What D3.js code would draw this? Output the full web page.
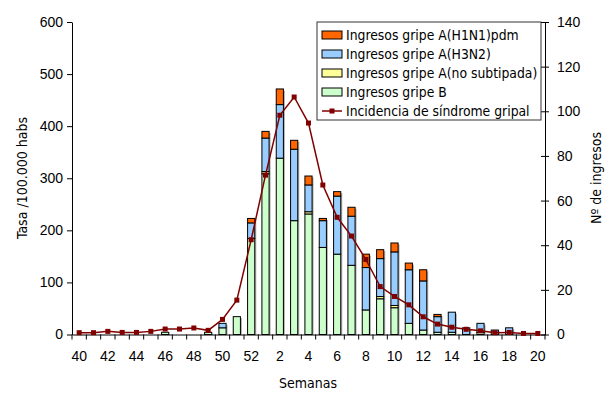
<!DOCTYPE html>
<html>
<head>
<meta charset="utf-8">
<script src="https://cdn.jsdelivr.net/npm/d3@7"></script>
<style>
	body{margin:0;background:#fff;}
	svg{font-family:Tahoma,"DejaVu Sans Condensed","DejaVu Sans",sans-serif;}
</style>
</head>
<body>
<div id="chartplace"></div>
<script>
// semanas epidemiologicas
var semanas = ["40","41","42","43","44","45","46","47","48","49","50","51","52",
	"1","2","3","4","5","6","7","8","9","10","11","12","13","14","15","16","17","18","19","20"];
// tasa de incidencia /100.000 habs (eje izq)
var incidencia = [3.5,3.5,6,4,4,6,10.5,10.5,12.5,8,29,66,182,
	306,421,456,406,287,225,189,144,92,73,57,34,20,14,10,7,3.5,4,2,2];
// ingresos (eje dcho)
var gripeB   = [0,0,0,0,0,0,1,0,0,1,3,8,43, 72,79,51,54,39,36,31,11,16,12,5,2,1,1,0,1,1,1,0,0];
var noSubtip = [0,0,0,0,0,0,0,0,0,0,0,0,0,  1,0,0,1,0,0,0,0,1,1,0,0,0,0,0,0,0,0,0,0];
var h3n2     = [0,0,0,0,0,0,0,0,0,0,2,0,7,  15,24,32,12,12,26,22,19,17,24,24,22,7,9,3,4,1,2,0,0];
var h1n1pdm  = [0,0,0,0,0,0,0,0,0,0,0,0,2,  3,7,4,4,1,2,4,6,4,4,3,5,1,0,0,0,0,0,0,0];

var ticksIzq = [0,100,200,300,400,500,600];
var ticksDer = [0,20,40,60,80,100,120,140];

var series = [
	{key:"B", legend:"Ingresos gripe B", color:"#CCFFCC", values:gripeB},
	{key:"ns", legend:"Ingresos gripe A(no subtipada)", color:"#FFFF99", values:noSubtip},
	{key:"h3", legend:"Ingresos gripe A(H3N2)", color:"#99CCFF", values:h3n2},
	{key:"pdm", legend:"Ingresos gripe A(H1N1)pdm", color:"#FF6600", values:h1n1pdm}
];
var lineColor = "#800000";

var width = 605, height = 394;
var mLeft = 72, mRight = 545, mTop = 22, mBottom = 334.5;

var svg = d3.select("#chartplace").append("svg")
	.attr("width", width).attr("height", height);

var x = d3.scaleBand().domain(semanas).range([mLeft, mRight]).padding(0);
var yIzq = d3.scaleLinear().domain([0,600]).range([mBottom, mTop]);
var yDer = d3.scaleLinear().domain([0,140]).range([mBottom, mTop]);

// tabla para stack
var tabla = semanas.map(function(s,i){
	var o = {semana:s};
	series.forEach(function(d){ o[d.key] = d.values[i]; });
	return o;
});
var stack = d3.stack().keys(series.map(function(d){ return d.key; }));
var capas = stack(tabla);

var bw = x.bandwidth()*0.5;

// sombras
var gs = svg.append("g");
tabla.forEach(function(d,i){
	var tot = series.reduce(function(a,s){ return a + d[s.key]; }, 0);
	if(tot<=0) return;
	gs.append("rect")
		.attr("x", x(d.semana) + (x.bandwidth()-bw)/2 + 1.5)
		.attr("y", yDer(tot) + 1.5)
		.attr("width", bw)
		.attr("height", yDer(0) - yDer(tot) - 1.5)
		.attr("fill", "#b0b0b0");
});

capas.forEach(function(capa, k){
	svg.append("g").selectAll("rect")
		.data(capa.filter(function(d){ return d[1]-d[0] > 0; }))
		.enter()
		.append("rect")
		.attr("x", function(d){ return x(d.data.semana) + (x.bandwidth()-bw)/2; })
		.attr("y", function(d){ return yDer(d[1]); })
		.attr("width", bw)
		.attr("height", function(d){ return yDer(d[0]) - yDer(d[1]); })
		.attr("fill", series[k].color)
		.attr("stroke", "#000")
		.attr("stroke-width", 1);
});

// ejes
var axL = svg.append("g").attr("transform","translate("+mLeft+",0)")
	.call(d3.axisLeft(yIzq).tickValues(ticksIzq).tickSize(5).tickSizeOuter(0).tickPadding(4));
var axR = svg.append("g").attr("transform","translate("+mRight+",0)")
	.call(d3.axisRight(yDer).tickValues(ticksDer).tickSize(4).tickSizeOuter(0).tickPadding(8));
axR.selectAll(".tick line").attr("x1", -4);

var axX = svg.append("g").attr("transform","translate(0,"+mBottom+")")
	.call(d3.axisBottom(x).tickSize(0).tickSizeOuter(0).tickPadding(17)
		.tickFormat(function(d,i){ return i%2==0 ? d : ""; }));
// marcas entre categorias
var bordes = semanas.map(function(s){ return x(s); }).concat([mRight]);
axX.selectAll(".sep").data(bordes).enter().append("line")
	.attr("class","sep")
	.attr("x1", function(d){ return d; }).attr("x2", function(d){ return d; })
	.attr("y1", 0).attr("y2", 5)
	.attr("stroke","#000");

[axL, axR, axX].forEach(function(a){
	a.selectAll("text").attr("font-size", 14).attr("font-family", null).attr("fill","#000");
	a.selectAll("path, line").attr("stroke","#000");
});

// linea incidencia
var line = d3.line()
	.x(function(d,i){ return x(semanas[i]) + x.bandwidth()/2; })
	.y(function(d){ return yIzq(d); });
svg.append("path")
	.attr("d", line(incidencia))
	.attr("stroke", lineColor)
	.attr("stroke-width", 1.5)
	.attr("fill", "none");
svg.append("g").selectAll("rect")
	.data(incidencia)
	.enter()
	.append("rect")
	.attr("x", function(d,i){ return x(semanas[i]) + x.bandwidth()/2 - 2.5; })
	.attr("y", function(d){ return yIzq(d) - 2.5; })
	.attr("width", 5).attr("height", 5)
	.attr("fill", lineColor);

// titulos
svg.append("text")
	.attr("transform","translate(22,178) rotate(-90)")
	.attr("text-anchor","middle").attr("dominant-baseline","central")
	.attr("font-size",14)
	.text("Tasa /100.000 habs");
svg.append("text")
	.attr("transform","translate(596,178) rotate(-90)")
	.attr("text-anchor","middle").attr("dominant-baseline","central")
	.attr("font-size",14)
	.text("Nº de ingresos");
svg.append("text")
	.attr("x", 308).attr("y", 388)
	.attr("text-anchor","middle")
	.attr("font-size",14)
	.text("Semanas");

// leyenda
var ley = svg.append("g").attr("transform","translate(317,22)");
ley.append("rect")
	.attr("width", 224).attr("height", 98)
	.attr("fill","#fff").attr("stroke","#333").attr("stroke-width",1);
var itemsLey = series.slice().reverse();
itemsLey.forEach(function(d,i){
	var yy = 13 + i*19;
	ley.append("rect")
		.attr("x", 5).attr("y", yy-4).attr("width", 20).attr("height", 8)
		.attr("fill", d.color).attr("stroke","#000");
	ley.append("text")
		.attr("x", 29).attr("y", yy).attr("dominant-baseline","central")
		.attr("font-size", 13.8)
		.text(d.legend);
});
var yl = 13 + 4*19;
ley.append("line").attr("x1",5).attr("x2",25).attr("y1",yl).attr("y2",yl)
	.attr("stroke", lineColor).attr("stroke-width",1.5);
ley.append("rect").attr("x",12.5).attr("y",yl-2.5).attr("width",5).attr("height",5).attr("fill",lineColor);
ley.append("text")
	.attr("x", 29).attr("y", yl).attr("dominant-baseline","central")
	.attr("font-size", 13.8)
	.text("Incidencia de síndrome gripal");
</script>
</body>
</html>
